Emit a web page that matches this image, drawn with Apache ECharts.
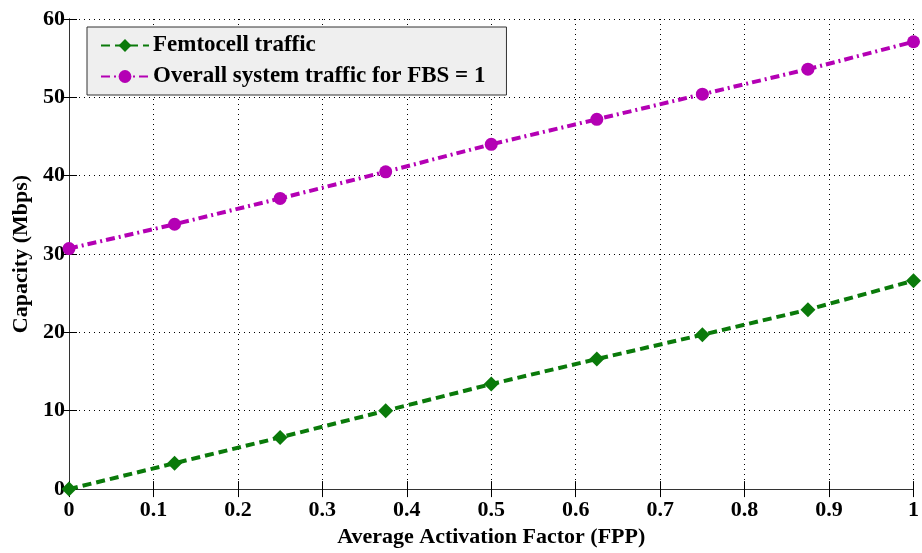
<!DOCTYPE html>
<html><head><meta charset="utf-8">
<script src="https://cdn.jsdelivr.net/npm/echarts@6/dist/echarts.min.js"></script>
<style>html,body{margin:0;padding:0;background:#fff}#c{width:922px;height:553px}</style>
</head><body><div id="c"></div>
<script>
const xValues = [0, 0.125, 0.25, 0.375, 0.5, 0.625, 0.75, 0.875, 1];
const femtoTraffic = [0, 3.3, 6.6, 10.0, 13.4, 16.6, 19.7, 22.9, 26.6];
const overallTraffic = [30.7, 33.8, 37.1, 40.5, 44.0, 47.2, 50.4, 53.6, 57.1];
const seriesNames = ['Femtocell traffic', 'Overall system traffic for FBS = 1'];
const xTitle = 'Average Activation Factor (FPP)';
const yTitle = 'Capacity (Mbps)';

const font = 'Liberation Serif';
const chart = echarts.init(document.getElementById('c'), null, {renderer: 'canvas'});
const pairs = a => xValues.map((x, i) => [x, a[i]]);
const labelStyle = {color: '#000', fontFamily: font, fontWeight: 'bold', fontSize: 22};
const titleStyle = {color: '#000', fontFamily: font, fontWeight: 'bold', fontSize: 22};
const tick = {show: true, inside: true, length: 8, lineStyle: {color: '#000'}};
chart.setOption({
  animation: false,
  backgroundColor: '#fff',
  grid: {left: 69, right: 5, top: 19, bottom: 60},
  legend: {
    left: 87, top: 27, orient: 'vertical',
    backgroundColor: '#efefef', borderColor: '#333', borderWidth: 1,
    padding: [7, 21, 7, 13], itemGap: 8, itemWidth: 48, itemHeight: 16,
    textStyle: {color: '#000', fontFamily: font, fontWeight: 'bold', fontSize: 23, padding: [0, 0, 0, -1]},
    data: seriesNames
  },
  xAxis: [{
    type: 'value', min: 0, max: 1, interval: 0.1,
    name: xTitle, nameLocation: 'middle', nameGap: 30,
    nameTextStyle: titleStyle,
    axisLine: {show: true, lineStyle: {color: '#000', width: 1}},
    axisTick: tick,
    axisLabel: Object.assign({margin: 10, formatter: v => String(+v.toFixed(1))}, labelStyle),
    splitLine: {show: true, lineStyle: {color: '#000', type: [1, 4], width: 1}}
  }, {
    type: 'value', min: 0, max: 1, interval: 0.1, position: 'top',
    axisLine: {show: true, lineStyle: {color: '#333', width: 1}},
    axisTick: tick,
    axisLabel: {show: false}, splitLine: {show: false}
  }],
  yAxis: [{
    type: 'value', min: 0, max: 60, interval: 10,
    name: yTitle, nameLocation: 'middle', nameGap: 34,
    nameTextStyle: titleStyle,
    axisLine: {show: true, lineStyle: {color: '#000', width: 1}},
    axisTick: tick,
    axisLabel: Object.assign({margin: 4}, labelStyle),
    splitLine: {show: true, lineStyle: {color: '#000', type: [1, 4], width: 1}}
  }, {
    type: 'value', min: 0, max: 60, interval: 10, position: 'right',
    axisLine: {show: true, lineStyle: {color: '#333', width: 1}},
    axisTick: tick,
    axisLabel: {show: false}, splitLine: {show: false}
  }],
  series: [{
    name: seriesNames[0], type: 'line', data: pairs(femtoTraffic),
    symbol: 'diamond', symbolSize: 15, color: '#0a7a0a',
    lineStyle: {width: 4, type: [9, 5], color: '#0a7a0a'},
    itemStyle: {color: '#0a7a0a'}
  }, {
    name: seriesNames[1], type: 'line', data: pairs(overallTraffic),
    symbol: 'circle', symbolSize: 13, color: '#b400b4',
    lineStyle: {width: 4, type: [9, 4, 2, 4], color: '#b400b4'},
    itemStyle: {color: '#b400b4'}
  }]
});
</script></body></html>
